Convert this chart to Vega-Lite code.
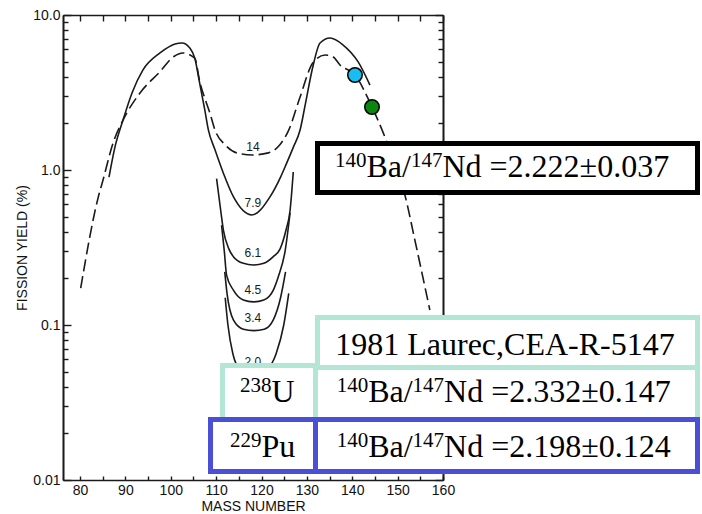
{
  "$schema": "https://vega.github.io/schema/vega-lite/v6.json",
  "width": 380,
  "height": 465,
  "autosize": {"type": "none"},
  "padding": {"left": 63, "top": 15, "right": 259, "bottom": 34},
  "background": "white",
  "config": {
    "view": {"stroke": null},
    "axis": {
      "grid": false,
      "domainColor": "#1a1a1a",
      "domainWidth": 1.6,
      "tickColor": "#1a1a1a",
      "tickWidth": 1.4,
      "labelFont": "Liberation Sans",
      "labelFontSize": 14,
      "labelColor": "#111111",
      "titleFont": "Liberation Sans",
      "titleFontSize": 14,
      "titleFontWeight": "normal",
      "titleColor": "#111111",
      "labelOverlap": false,
      "labelFlush": false
    }
  },
  "datasets": {
    "curves": [
      {"energy": "14", "mass": 80.15, "yield": 0.173},
      {"energy": "14", "mass": 83.97, "yield": 0.659},
      {"energy": "14", "mass": 85.07, "yield": 0.861},
      {"energy": "14", "mass": 87.27, "yield": 1.49},
      {"energy": "14", "mass": 89.48, "yield": 2.10},
      {"energy": "14", "mass": 93.22, "yield": 3.14},
      {"energy": "14", "mass": 97.63, "yield": 4.31},
      {"energy": "14", "mass": 100.6, "yield": 5.38},
      {"energy": "14", "mass": 102.7, "yield": 5.69},
      {"energy": "14", "mass": 105.3, "yield": 5.26},
      {"energy": "14", "mass": 106.4, "yield": 3.7},
      {"energy": "14", "mass": 107.9, "yield": 2.69},
      {"energy": "14", "mass": 108.65, "yield": 2.32},
      {"energy": "14", "mass": 109.75, "yield": 1.81},
      {"energy": "14", "mass": 112.0, "yield": 1.45},
      {"energy": "14", "mass": 114.5, "yield": 1.29},
      {"energy": "14", "mass": 118.0, "yield": 1.25},
      {"energy": "14", "mass": 121.5, "yield": 1.29},
      {"energy": "14", "mass": 124.0, "yield": 1.45},
      {"energy": "14", "mass": 126.0, "yield": 1.81},
      {"energy": "14", "mass": 128.5, "yield": 2.96},
      {"energy": "14", "mass": 131.3, "yield": 4.9},
      {"energy": "14", "mass": 134.0, "yield": 5.52},
      {"energy": "14", "mass": 135.8, "yield": 5.36},
      {"energy": "14", "mass": 137.3, "yield": 4.76},
      {"energy": "14", "mass": 140.6, "yield": 4.10},
      {"energy": "14", "mass": 144.35, "yield": 2.55},
      {"energy": "14", "mass": 147.2, "yield": 1.63},
      {"energy": "14", "mass": 149.4, "yield": 1.08},
      {"energy": "14", "mass": 151.6, "yield": 0.69},
      {"energy": "14", "mass": 153.8, "yield": 0.353},
      {"energy": "14", "mass": 157.1, "yield": 0.125},

      {"energy": "7.9", "mass": 86.39, "yield": 0.90},
      {"energy": "7.9", "mass": 87.71, "yield": 1.41},
      {"energy": "7.9", "mass": 89.48, "yield": 2.10},
      {"energy": "7.9", "mass": 91.46, "yield": 3.14},
      {"energy": "7.9", "mass": 93.88, "yield": 4.42},
      {"energy": "7.9", "mass": 97.63, "yield": 5.69},
      {"energy": "7.9", "mass": 100.94, "yield": 6.50},
      {"energy": "7.9", "mass": 102.5, "yield": 6.6},
      {"energy": "7.9", "mass": 104.2, "yield": 6.12},
      {"energy": "7.9", "mass": 105.3, "yield": 5.26},
      {"energy": "7.9", "mass": 106.4, "yield": 3.59},
      {"energy": "7.9", "mass": 107.5, "yield": 2.44},
      {"energy": "7.9", "mass": 108.3, "yield": 1.81},
      {"energy": "7.9", "mass": 109.75, "yield": 1.35},
      {"energy": "7.9", "mass": 111.6, "yield": 0.953},
      {"energy": "7.9", "mass": 113.8, "yield": 0.673},
      {"energy": "7.9", "mass": 117.9, "yield": 0.513},
      {"energy": "7.9", "mass": 121.9, "yield": 0.673},
      {"energy": "7.9", "mass": 124.2, "yield": 0.90},
      {"energy": "7.9", "mass": 125.5, "yield": 1.10},
      {"energy": "7.9", "mass": 127.0, "yield": 1.40},
      {"energy": "7.9", "mass": 128.5, "yield": 1.81},
      {"energy": "7.9", "mass": 129.6, "yield": 2.6},
      {"energy": "7.9", "mass": 131.3, "yield": 4.62},
      {"energy": "7.9", "mass": 132.9, "yield": 6.6},
      {"energy": "7.9", "mass": 135.1, "yield": 7.1},
      {"energy": "7.9", "mass": 138.0, "yield": 6.4},
      {"energy": "7.9", "mass": 141.3, "yield": 4.98},
      {"energy": "7.9", "mass": 143.9, "yield": 3.53},

      {"energy": "6.1", "mass": 110.1, "yield": 0.88},
      {"energy": "6.1", "mass": 111.0, "yield": 0.55},
      {"energy": "6.1", "mass": 111.6, "yield": 0.41},
      {"energy": "6.1", "mass": 112.8, "yield": 0.31},
      {"energy": "6.1", "mass": 113.8, "yield": 0.276},
      {"energy": "6.1", "mass": 116.0, "yield": 0.25},
      {"energy": "6.1", "mass": 118.2, "yield": 0.244},
      {"energy": "6.1", "mass": 120.5, "yield": 0.25},
      {"energy": "6.1", "mass": 122.6, "yield": 0.276},
      {"energy": "6.1", "mass": 124.1, "yield": 0.31},
      {"energy": "6.1", "mass": 125.4, "yield": 0.41},
      {"energy": "6.1", "mass": 126.3, "yield": 0.55},
      {"energy": "6.1", "mass": 127.0, "yield": 0.97},

      {"energy": "4.5", "mass": 111.2, "yield": 0.44},
      {"energy": "4.5", "mass": 111.8, "yield": 0.30},
      {"energy": "4.5", "mass": 112.3, "yield": 0.21},
      {"energy": "4.5", "mass": 113.8, "yield": 0.168},
      {"energy": "4.5", "mass": 116.0, "yield": 0.145},
      {"energy": "4.5", "mass": 118.2, "yield": 0.141},
      {"energy": "4.5", "mass": 120.5, "yield": 0.145},
      {"energy": "4.5", "mass": 122.6, "yield": 0.168},
      {"energy": "4.5", "mass": 123.7, "yield": 0.205},
      {"energy": "4.5", "mass": 125.2, "yield": 0.30},
      {"energy": "4.5", "mass": 126.3, "yield": 0.53},

      {"energy": "3.4", "mass": 111.9, "yield": 0.22},
      {"energy": "3.4", "mass": 112.4, "yield": 0.16},
      {"energy": "3.4", "mass": 113.8, "yield": 0.108},
      {"energy": "3.4", "mass": 116.0, "yield": 0.094},
      {"energy": "3.4", "mass": 118.3, "yield": 0.092},
      {"energy": "3.4", "mass": 120.6, "yield": 0.094},
      {"energy": "3.4", "mass": 122.6, "yield": 0.108},
      {"energy": "3.4", "mass": 124.2, "yield": 0.15},
      {"energy": "3.4", "mass": 125.3, "yield": 0.22},

      {"energy": "2.0", "mass": 112.0, "yield": 0.15},
      {"energy": "2.0", "mass": 112.6, "yield": 0.10},
      {"energy": "2.0", "mass": 113.7, "yield": 0.065},
      {"energy": "2.0", "mass": 115.5, "yield": 0.050},
      {"energy": "2.0", "mass": 118.2, "yield": 0.045},
      {"energy": "2.0", "mass": 121.0, "yield": 0.050},
      {"energy": "2.0", "mass": 123.2, "yield": 0.065},
      {"energy": "2.0", "mass": 124.9, "yield": 0.10},
      {"energy": "2.0", "mass": 126.0, "yield": 0.16}
    ],
    "curveLabels": [
      {"energy": "14", "mass": 118.1, "yield": 1.41},
      {"energy": "7.9", "mass": 118.1, "yield": 0.612},
      {"energy": "6.1", "mass": 118.1, "yield": 0.292},
      {"energy": "4.5", "mass": 118.1, "yield": 0.168},
      {"energy": "3.4", "mass": 118.1, "yield": 0.111},
      {"energy": "2.0", "mass": 118.1, "yield": 0.058}
    ],
    "dots": [
      {"nuclide": "Ba-140", "mass": 140.6, "yield": 4.10},
      {"nuclide": "Nd-147", "mass": 144.35, "yield": 2.55}
    ],
    "boxes": [
      {"set": "measured", "x1": 132.34, "x2": 216.09, "y1": 1.483, "y2": 0.7157},
      {"set": "U-238", "x1": 132.34, "x2": 216.09, "y1": 0.1118, "y2": 0.0532},
      {"set": "U-238", "x1": 111.40, "x2": 131.90, "y1": 0.0548, "y2": 0.02457},
      {"set": "U-238", "x1": 131.90, "x2": 216.09, "y1": 0.0532, "y2": 0.02457},
      {"set": "Pu-229", "x1": 108.76, "x2": 131.90, "y1": 0.02457, "y2": 0.01134},
      {"set": "Pu-229", "x1": 131.90, "x2": 216.09, "y1": 0.02457, "y2": 0.01134}
    ],
    "boxTexts": [
      {"role": "sup", "text": "140", "mass": 136.20, "yield": 0.8948},
      {"role": "main", "text": "Ba/", "mass": 143.14, "yield": 0.8948},
      {"role": "sup", "text": "147", "mass": 152.93, "yield": 0.8948},
      {"role": "main", "text": "Nd =2.222±0.037", "mass": 159.87, "yield": 0.8948},

      {"role": "centre", "text": "1981 Laurec,CEA-R-5147", "mass": 173.66, "yield": 0.06403},

      {"role": "sup", "text": "238", "mass": 115.26, "yield": 0.0320},
      {"role": "main", "text": "U", "mass": 122.20, "yield": 0.0320},
      {"role": "sup", "text": "140", "mass": 136.57, "yield": 0.0320},
      {"role": "main", "text": "Ba/", "mass": 143.51, "yield": 0.0320},
      {"role": "sup", "text": "147", "mass": 153.30, "yield": 0.0320},
      {"role": "main", "text": "Nd =2.332±0.147", "mass": 160.24, "yield": 0.0320},

      {"role": "sup", "text": "229", "mass": 113.06, "yield": 0.01413},
      {"role": "main", "text": "Pu", "mass": 120.00, "yield": 0.01413},
      {"role": "sup", "text": "140", "mass": 136.57, "yield": 0.01413},
      {"role": "main", "text": "Ba/", "mass": 143.51, "yield": 0.01413},
      {"role": "sup", "text": "147", "mass": 153.30, "yield": 0.01413},
      {"role": "main", "text": "Nd =2.198±0.124", "mass": 160.24, "yield": 0.01413}
    ]
  },
  "layer": [
    {
      "data": {"name": "curves"},
      "transform": [{"filter": "datum.energy == '14'"}],
      "mark": {"type": "line", "interpolate": "monotone", "color": "#1a1a1a", "strokeWidth": 1.6, "strokeDash": [12, 5]},
      "encoding": {
        "x": {"field": "mass", "type": "quantitative",
              "scale": {"type": "linear", "domain": [76.25, 160], "zero": false, "nice": false},
              "axis": {"orient": "bottom", "values": [80,85,90,95,100,105,110,115,120,125,130,135,140,145,150,155,160],
                       "labelExpr": "datum.value % 10 == 0 ? datum.label : ''",
                       "tickSize": -4, "labelPadding": 7, "title": "MASS NUMBER", "titlePadding": 2}},
        "y": {"field": "yield", "type": "quantitative",
              "scale": {"type": "log", "domain": [0.01, 10], "nice": false},
              "axis": {"orient": "left", "values": [0.01, 0.1, 1, 10],
                       "labelExpr": "datum.value >= 9 ? '10.0' : datum.value >= 0.9 ? '1.0' : datum.value >= 0.09 ? '0.1' : '0.01'",
                       "tickSize": -8, "labelPadding": 11, "title": "FISSION YIELD (%)", "titlePadding": 3}}
      }
    },
    {
      "data": {"name": "curves"},
      "transform": [{"filter": "datum.energy != '14'"}],
      "mark": {"type": "line", "interpolate": "monotone", "color": "#1a1a1a", "strokeWidth": 1.6},
      "encoding": {
        "detail": {"field": "energy"},
        "x": {"field": "mass", "type": "quantitative",
              "scale": {"type": "linear", "domain": [76.25, 160], "zero": false, "nice": false},
              "axis": {"orient": "top", "values": [80,85,90,95,100,105,110,115,120,125,130,135,140,145,150,155,160],
                       "labels": false, "tickSize": -6, "title": null}},
        "y": {"field": "yield", "type": "quantitative",
              "scale": {"type": "log", "domain": [0.01, 10], "nice": false},
              "axis": {"orient": "right", "values": [0.01, 0.1, 1, 10], "labels": false, "tickSize": -8, "title": null}}
      }
    },
    {
      "data": {"name": "curveLabels"},
      "mark": {"type": "text", "font": "Liberation Sans", "fontSize": 12, "color": "#1a1a1a", "align": "center", "baseline": "middle"},
      "encoding": {
        "text": {"field": "energy"},
        "x": {"field": "mass", "type": "quantitative",
              "scale": {"type": "linear", "domain": [76.25, 160], "zero": false, "nice": false}, "axis": null},
        "y": {"field": "yield", "type": "quantitative",
              "scale": {"type": "log", "domain": [0.01, 10], "nice": false},
              "axis": {"orient": "left", "values": [0.02,0.03,0.04,0.05,0.06,0.07,0.08,0.09,0.2,0.3,0.4,0.5,0.6,0.7,0.8,0.9,2,3,4,5,6,7,8,9],
                       "labels": false, "tickSize": -5, "title": null}}
      }
    },
    {
      "data": {"name": "dots"},
      "mark": {"type": "point", "shape": "circle", "filled": true, "size": 210, "stroke": "#000000", "strokeWidth": 1.5, "opacity": 1},
      "encoding": {
        "fill": {"field": "nuclide", "type": "nominal", "scale": {"domain": ["Ba-140", "Nd-147"], "range": ["#18bdf2", "#0a870f"]}, "legend": null},
        "x": {"field": "mass", "type": "quantitative",
              "scale": {"type": "linear", "domain": [76.25, 160], "zero": false, "nice": false}, "axis": null},
        "y": {"field": "yield", "type": "quantitative",
              "scale": {"type": "log", "domain": [0.01, 10], "nice": false},
              "axis": {"orient": "right", "values": [0.02,0.03,0.04,0.05,0.06,0.07,0.08,0.09,0.2,0.3,0.4,0.5,0.6,0.7,0.8,0.9,2,3,4,5,6,7,8,9],
                       "labels": false, "tickSize": -5, "title": null}}
      }
    },
    {
      "data": {"name": "boxes"},
      "mark": {"type": "rect", "fill": "#ffffff", "strokeWidth": 5, "strokeJoin": "miter"},
      "encoding": {
        "stroke": {"field": "set", "type": "nominal", "scale": {"domain": ["measured", "U-238", "Pu-229"], "range": ["#000000", "#b3e6d4", "#4a4fd6"]}, "legend": null},
        "x": {"field": "x1", "type": "quantitative",
              "scale": {"type": "linear", "domain": [76.25, 160], "zero": false, "nice": false}, "axis": null},
        "x2": {"field": "x2"},
        "y": {"field": "y1", "type": "quantitative",
              "scale": {"type": "log", "domain": [0.01, 10], "nice": false}, "axis": null},
        "y2": {"field": "y2"}
      }
    },
    {
      "data": {"name": "boxTexts"},
      "transform": [{"filter": "datum.role == 'main'"}],
      "mark": {"type": "text", "font": "Liberation Serif", "fontSize": 32, "color": "#000000", "align": "left", "baseline": "alphabetic"},
      "encoding": {
        "text": {"field": "text"},
        "x": {"field": "mass", "type": "quantitative",
              "scale": {"type": "linear", "domain": [76.25, 160], "zero": false, "nice": false}, "axis": null},
        "y": {"field": "yield", "type": "quantitative",
              "scale": {"type": "log", "domain": [0.01, 10], "nice": false}, "axis": null}
      }
    },
    {
      "data": {"name": "boxTexts"},
      "transform": [{"filter": "datum.role == 'sup'"}],
      "mark": {"type": "text", "font": "Liberation Serif", "fontSize": 21, "color": "#000000", "align": "left", "baseline": "alphabetic", "dy": -10},
      "encoding": {
        "text": {"field": "text"},
        "x": {"field": "mass", "type": "quantitative",
              "scale": {"type": "linear", "domain": [76.25, 160], "zero": false, "nice": false}, "axis": null},
        "y": {"field": "yield", "type": "quantitative",
              "scale": {"type": "log", "domain": [0.01, 10], "nice": false}, "axis": null}
      }
    },
    {
      "data": {"name": "boxTexts"},
      "transform": [{"filter": "datum.role == 'centre'"}],
      "mark": {"type": "text", "font": "Liberation Serif", "fontSize": 32, "color": "#000000", "align": "center", "baseline": "alphabetic"},
      "encoding": {
        "text": {"field": "text"},
        "x": {"field": "mass", "type": "quantitative",
              "scale": {"type": "linear", "domain": [76.25, 160], "zero": false, "nice": false}, "axis": null},
        "y": {"field": "yield", "type": "quantitative",
              "scale": {"type": "log", "domain": [0.01, 10], "nice": false}, "axis": null}
      }
    }
  ],
  "resolve": {"axis": {"x": "independent", "y": "independent"}}
}
